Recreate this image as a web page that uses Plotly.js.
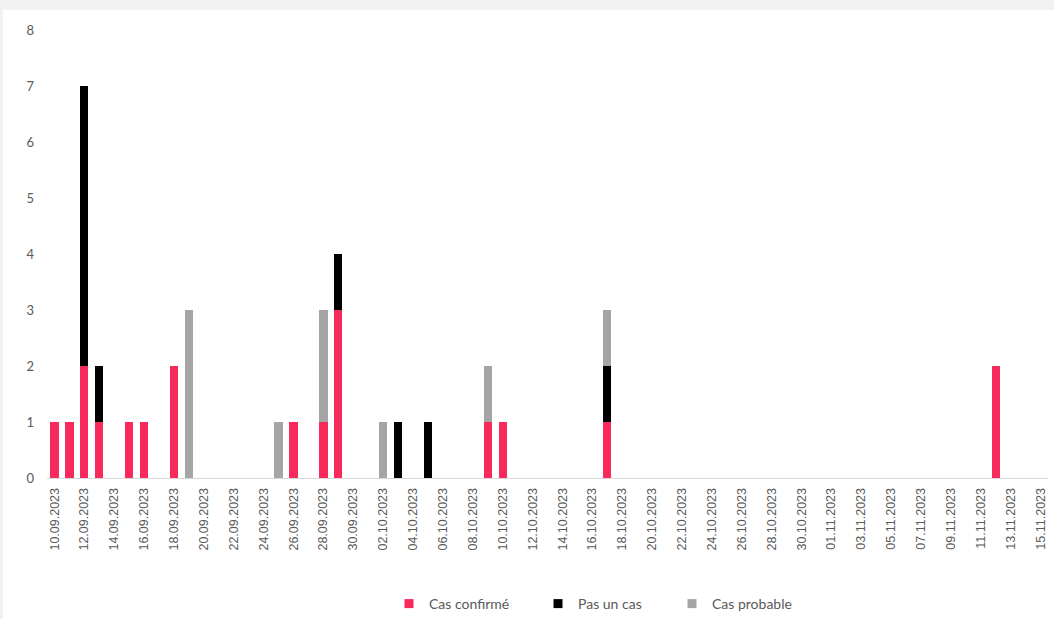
<!DOCTYPE html>
<html>
<head>
<meta charset="utf-8">
<script src="https://cdn.plot.ly/plotly-3.0.1.min.js"></script>
<style>
html,body{margin:0;padding:0;background:#f2f2f2;}
#chart{position:absolute;left:3px;top:10px;width:1051px;height:609px;background:#fff;}
</style>
</head>
<body>
<div id="chart"></div>
<script>
// Data
const confirmedDates = ['2023-09-10','2023-09-11','2023-09-12','2023-09-13','2023-09-15','2023-09-16','2023-09-18','2023-09-26','2023-09-28','2023-09-29','2023-10-09','2023-10-10','2023-10-17','2023-11-12'];
const confirmedValues = [1,1,2,1,1,1,2,1,1,3,1,1,1,2];
const notCaseDates = ['2023-09-12','2023-09-13','2023-09-29','2023-10-03','2023-10-05','2023-10-17'];
const notCaseValues = [5,1,1,1,1,1];
const probableDates = ['2023-09-19','2023-09-25','2023-09-28','2023-10-02','2023-10-09','2023-10-17'];
const probableValues = [3,1,2,1,1,1];
const seriesNames = ['Cas confirmé','Pas un cas','Cas probable'];
const yTicks = [0,1,2,3,4,5,6,7,8];

const colors = ['#F72A5B','#000000','#A5A5A5'];
const DAY = 86400000;
const barW = 0.55*DAY;

const bars = [
  [confirmedDates, confirmedValues],
  [notCaseDates, notCaseValues],
  [probableDates, probableValues]
].map((d,i)=>({
  type:'bar', x:d[0], y:d[1], name:seriesNames[i],
  marker:{color:colors[i], line:{width:0}}, width:barW,
  showlegend:false, hoverinfo:'x+y+name'
}));

const legendNames = ['legend','legend2','legend3'];
const legendTraces = seriesNames.map((n,i)=>({
  type:'scatter', mode:'markers', x:[null], y:[null], name:n,
  marker:{symbol:'square', size:9, color:colors[i]},
  legend: legendNames[i], showlegend:true
}));

const markerX = [406, 555, 689];
const legendFont = {family:'Lato, "Open Sans", sans-serif', size:14, color:'#595959'};
const layout = {
  width:1051, height:609,
  paper_bgcolor:'#ffffff', plot_bgcolor:'#ffffff',
  margin:{l:44, r:6, t:20, b:141},
  barmode:'stack',
  showlegend:true,
  xaxis:{
    type:'date',
    range:['2023-09-09 12:00','2023-11-15 12:00'],
    tick0:'2023-09-10', dtick:2*DAY,
    tickformat:'%d.%m.%Y', tickangle:-90,
    tickfont:{family:'"Liberation Sans", Arial, sans-serif', size:12.5, color:'#595959'},
    showgrid:false, zeroline:false,
    showline:true, linecolor:'#d9d9d9', linewidth:1,
    ticks:'', ticklabelstandoff:4, fixedrange:true
  },
  yaxis:{
    range:[0,8], tickvals:yTicks, ticktext:yTicks.map(String),
    tickfont:{family:'Lato, "Open Sans", sans-serif', size:13, color:'#595959'},
    showgrid:false, zeroline:false, showline:false, ticks:'',
    ticklabelstandoff:12, fixedrange:true
  }
};
legendNames.forEach((ln,i)=>{
  layout[ln] = {
    orientation:'h', xref:'container', yref:'container',
    x:(markerX[i]-20)/1051, xanchor:'left',
    y:15/609, yanchor:'middle',
    font:legendFont, bgcolor:'rgba(0,0,0,0)', borderwidth:0,
    itemwidth:30
  };
});

Plotly.newPlot('chart', bars.concat(legendTraces), layout, {displayModeBar:false, staticPlot:true});
</script>
</body>
</html>
